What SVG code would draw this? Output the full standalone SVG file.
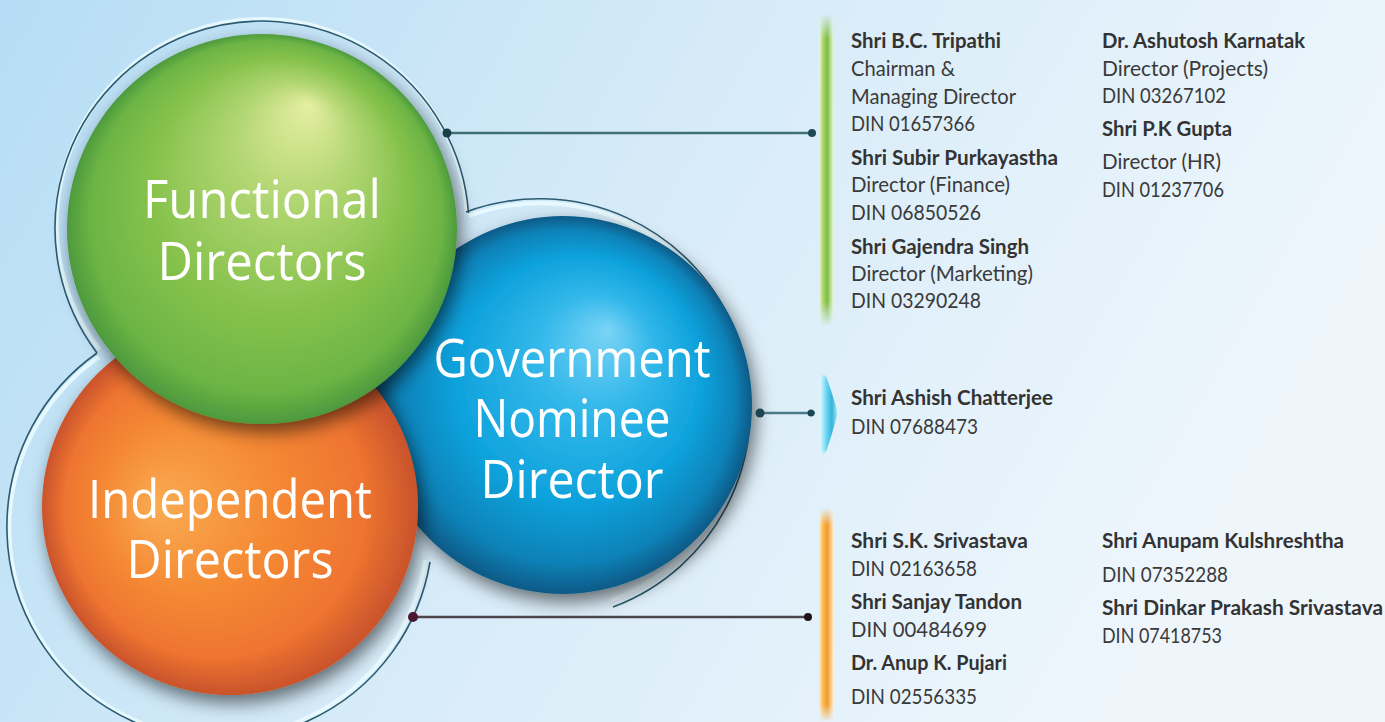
<svg xmlns="http://www.w3.org/2000/svg" width="1385" height="722" viewBox="0 0 1385 722">
<defs>
<style>
.lbl{font-family:"Open Sans","Noto Sans",sans-serif;font-size:53px;fill:#ffffff;text-anchor:middle}
.nm{font-family:Lato,"Open Sans",sans-serif;font-size:21px;font-weight:700;fill:#333333}
.tx{font-family:Lato,"Open Sans",sans-serif;font-size:21px;font-weight:400;fill:#3a3a3a}
.ring{fill:none;stroke:#2c5a6e;stroke-width:1.6}
.glow{fill:none;stroke:#eafcff;stroke-width:4;opacity:0.85}
.conn{fill:none;stroke-width:2.5}
</style>
<linearGradient id="bg" x1="0" y1="0" x2="1" y2="0.3">
<stop offset="0" stop-color="#b5ddf5"/>
<stop offset="0.5" stop-color="#d6ebf8"/>
<stop offset="1" stop-color="#eef6fc"/>
</linearGradient>
<radialGradient id="gGreen" cx="0.5" cy="0.5" r="0.5" fx="0.62" fy="0.18">
<stop offset="0" stop-color="#e6eea2"/>
<stop offset="0.3" stop-color="#b2d673"/>
<stop offset="0.65" stop-color="#86c24c"/>
<stop offset="0.9" stop-color="#6cb444"/>
<stop offset="1" stop-color="#4d9a3e"/>
</radialGradient>
<radialGradient id="gOrange" cx="0.5" cy="0.5" r="0.5" fx="0.3" fy="0.5">
<stop offset="0" stop-color="#f9ab52"/>
<stop offset="0.45" stop-color="#f58a34"/>
<stop offset="0.8" stop-color="#ee7430"/>
<stop offset="1" stop-color="#c9532c"/>
</radialGradient>
<radialGradient id="gBlue" cx="0.5" cy="0.5" r="0.5" fx="0.62" fy="0.3">
<stop offset="0" stop-color="#7ad4f6"/>
<stop offset="0.3" stop-color="#33b8ea"/>
<stop offset="0.65" stop-color="#0ea2dc"/>
<stop offset="0.88" stop-color="#0a82b8"/>
<stop offset="1" stop-color="#0a5a86"/>
</radialGradient>
<filter id="shadow" x="-20%" y="-20%" width="140%" height="140%">
<feGaussianBlur in="SourceAlpha" stdDeviation="9"/>
<feOffset dx="4" dy="8" result="b"/>
<feComponentTransfer><feFuncA type="linear" slope="0.55"/></feComponentTransfer>
<feMerge><feMergeNode/><feMergeNode in="SourceGraphic"/></feMerge>
</filter>
<linearGradient id="barGreen" x1="0" y1="0" x2="1" y2="0">
<stop offset="0" stop-color="#f0f8d8"/>
<stop offset="0.3" stop-color="#a6d468"/>
<stop offset="0.6" stop-color="#7cbd3e"/>
<stop offset="1" stop-color="#e4f2d0"/>
</linearGradient>
<linearGradient id="barOrange" x1="0" y1="0" x2="1" y2="0">
<stop offset="0" stop-color="#fdf0c8"/>
<stop offset="0.3" stop-color="#f9b850"/>
<stop offset="0.6" stop-color="#f59a2a"/>
<stop offset="1" stop-color="#fbe4b8"/>
</linearGradient>
<linearGradient id="barBlue" x1="0" y1="0" x2="1" y2="0">
<stop offset="0" stop-color="#e0f8ff"/>
<stop offset="0.4" stop-color="#66d2f2"/>
<stop offset="0.7" stop-color="#38b4d6"/>
<stop offset="1" stop-color="#9fe6fa"/>
</linearGradient>
<linearGradient id="fadeV" x1="0" y1="0" x2="0" y2="1">
<stop offset="0" stop-color="#fff" stop-opacity="0"/>
<stop offset="0.08" stop-color="#fff" stop-opacity="1"/>
<stop offset="0.92" stop-color="#fff" stop-opacity="1"/>
<stop offset="1" stop-color="#fff" stop-opacity="0"/>
</linearGradient>
<mask id="fadeMask" maskContentUnits="objectBoundingBox">
<rect x="0" y="0" width="1" height="1" fill="url(#fadeV)"/>
</mask>
</defs>

<rect x="0" y="0" width="1385" height="722" fill="url(#bg)"/>

<g id="rings">
<path class="glow" d="M 99.4 349.2 A 205 205 0 1 1 466.5 213.7"/>
<path class="ring" d="M 97 353 A 207 207 0 1 1 468.5 213"/>
<path class="glow" d="M 469 216 A 203 203 0 1 1 611 600"/>
<path class="ring" d="M 466 212 A 208 208 0 1 1 613 607"/>
<path class="glow" d="M 99 357 A 209 209 0 1 0 425 560"/>
<path class="ring" d="M 97 353 A 213 213 0 1 0 430 562"/>
</g>

<g id="node-government" filter="url(#shadow)">
<circle cx="563" cy="405" r="189" fill="url(#gBlue)"/>
<text class="lbl" x="572" y="377" textLength="277" lengthAdjust="spacingAndGlyphs">Government</text>
<text class="lbl" x="572" y="437" textLength="197" lengthAdjust="spacingAndGlyphs">Nominee</text>
<text class="lbl" x="572" y="498" textLength="183" lengthAdjust="spacingAndGlyphs">Director</text>
</g>

<g id="node-independent" filter="url(#shadow)">
<circle cx="230" cy="507" r="188" fill="url(#gOrange)"/>
<text class="lbl" x="230" y="518" textLength="284" lengthAdjust="spacingAndGlyphs">Independent</text>
<text class="lbl" x="230" y="578" textLength="207" lengthAdjust="spacingAndGlyphs">Directors</text>
</g>

<g id="node-functional" filter="url(#shadow)">
<circle cx="262" cy="229" r="195" fill="url(#gGreen)"/>
<text class="lbl" x="262" y="218" textLength="238" lengthAdjust="spacingAndGlyphs">Functional</text>
<text class="lbl" x="262" y="280" textLength="209" lengthAdjust="spacingAndGlyphs">Directors</text>
</g>

<g id="connectors">
<line class="conn" x1="447" y1="133" x2="815" y2="133" stroke="#3f7076"/>
<circle cx="447" cy="133" r="4.5" fill="#17404a"/>
<circle cx="812" cy="133" r="4" fill="#1e4a55"/>
<line class="conn" x1="760" y1="413" x2="815" y2="413" stroke="#4a7a88" stroke-width="2"/>
<circle cx="760" cy="413" r="4.5" fill="#1d4452"/>
<circle cx="811" cy="413" r="3.5" fill="#1d4452"/>
<line class="conn" x1="413" y1="617" x2="810" y2="617" stroke="#4d454c"/>
<circle cx="413" cy="617" r="5" fill="#4a1830"/>
<circle cx="808" cy="617" r="4" fill="#201418"/>
</g>

<g id="bars">
<rect x="819" y="14" width="14" height="312" fill="url(#barGreen)" mask="url(#fadeMask)"/>
<path d="M 820 372 L 826 376 Q 838 410 837 413 Q 838 416 826 452 L 820 456 Z" fill="url(#barBlue)" mask="url(#fadeMask)"/>
<rect x="819" y="508" width="14" height="214" fill="url(#barOrange)" mask="url(#fadeMask)"/>
</g>

<g id="list-functional">
<text class="nm" x="851" y="48" textLength="150" lengthAdjust="spacingAndGlyphs">Shri B.C. Tripathi</text>
<text class="tx" x="851" y="76" textLength="104" lengthAdjust="spacingAndGlyphs">Chairman &amp;</text>
<text class="tx" x="851" y="104" textLength="165" lengthAdjust="spacingAndGlyphs">Managing Director</text>
<text class="tx" x="851" y="131" textLength="124" lengthAdjust="spacingAndGlyphs">DIN 01657366</text>
<text class="nm" x="851" y="165" textLength="207" lengthAdjust="spacingAndGlyphs">Shri Subir Purkayastha</text>
<text class="tx" x="851" y="192" textLength="159" lengthAdjust="spacingAndGlyphs">Director (Finance)</text>
<text class="tx" x="851" y="220" textLength="130" lengthAdjust="spacingAndGlyphs">DIN 06850526</text>
<text class="nm" x="851" y="254" textLength="178" lengthAdjust="spacingAndGlyphs">Shri Gajendra Singh</text>
<text class="tx" x="851" y="281" textLength="182" lengthAdjust="spacingAndGlyphs">Director (Marketing)</text>
<text class="tx" x="851" y="308" textLength="130" lengthAdjust="spacingAndGlyphs">DIN 03290248</text>
<text class="nm" x="1102" y="48" textLength="203" lengthAdjust="spacingAndGlyphs">Dr. Ashutosh Karnatak</text>
<text class="tx" x="1102" y="76" textLength="166" lengthAdjust="spacingAndGlyphs">Director (Projects)</text>
<text class="tx" x="1102" y="103" textLength="124" lengthAdjust="spacingAndGlyphs">DIN 03267102</text>
<text class="nm" x="1102" y="136" textLength="130" lengthAdjust="spacingAndGlyphs">Shri P.K Gupta</text>
<text class="tx" x="1102" y="169" textLength="119" lengthAdjust="spacingAndGlyphs">Director (HR)</text>
<text class="tx" x="1102" y="197" textLength="122" lengthAdjust="spacingAndGlyphs">DIN 01237706</text>
</g>

<g id="list-government">
<text class="nm" x="851" y="405" textLength="202" lengthAdjust="spacingAndGlyphs">Shri Ashish Chatterjee</text>
<text class="tx" x="851" y="434" textLength="127" lengthAdjust="spacingAndGlyphs">DIN 07688473</text>
</g>

<g id="list-independent">
<text class="nm" x="851" y="548" textLength="177" lengthAdjust="spacingAndGlyphs">Shri S.K. Srivastava</text>
<text class="tx" x="851" y="576" textLength="126" lengthAdjust="spacingAndGlyphs">DIN 02163658</text>
<text class="nm" x="851" y="609" textLength="171" lengthAdjust="spacingAndGlyphs">Shri Sanjay Tandon</text>
<text class="tx" x="851" y="637" textLength="136" lengthAdjust="spacingAndGlyphs">DIN 00484699</text>
<text class="nm" x="851" y="670" textLength="156" lengthAdjust="spacingAndGlyphs">Dr. Anup K. Pujari</text>
<text class="tx" x="851" y="704" textLength="126" lengthAdjust="spacingAndGlyphs">DIN 02556335</text>
<text class="nm" x="1102" y="548" textLength="242" lengthAdjust="spacingAndGlyphs">Shri Anupam Kulshreshtha</text>
<text class="tx" x="1102" y="582" textLength="126" lengthAdjust="spacingAndGlyphs">DIN 07352288</text>
<text class="nm" x="1102" y="615" textLength="281" lengthAdjust="spacingAndGlyphs">Shri Dinkar Prakash Srivastava</text>
<text class="tx" x="1102" y="643" textLength="120" lengthAdjust="spacingAndGlyphs">DIN 07418753</text>
</g>
</svg>
